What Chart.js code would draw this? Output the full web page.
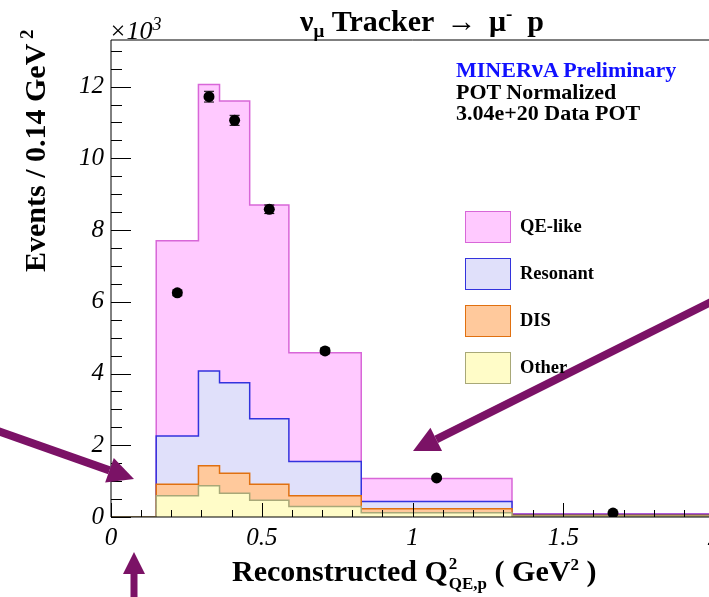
<!DOCTYPE html>
<html>
<head>
<meta charset="utf-8">
<script src="https://cdn.jsdelivr.net/npm/chart.js@4"></script>
<style>
  html, body { margin: 0; padding: 0; overflow: hidden; background: #fff; }
  #wrap { position: relative; width: 760px; height: 597px; }
  .txt { position: absolute; font-family: "Liberation Serif", "DejaVu Serif", serif; line-height: 1; white-space: nowrap; color: #000; }
  .b { font-weight: bold; }
  .box { position: absolute; width: 44px; height: 30px; border: 1px solid; }
</style>
</head>
<body>
<div id="wrap">
  <canvas id="chart" width="760" height="597"></canvas>
  <div class="txt" style="left:109px; top:15px; font-size:26px; font-style:italic;">&times;10<sup style="font-size:18px; vertical-align:9px;">3</sup></div>
  <div class="txt b" style="left:300px; top:4px; font-size:30px;">&nu;<sub style="font-size:19px; vertical-align:-6px;">&mu;</sub> Tracker <span style="display:inline-block; width:40px; text-align:center;">&rarr;</span> &mu;<sup style="font-size:19px; vertical-align:11px;">-</sup>&nbsp;&nbsp;p</div>
  <div class="txt b" style="left:456px; top:59px; font-size:22px; color:#1010ff;">MINER<span style="font-size:25px; line-height:0;">&nu;</span>A Preliminary</div>
  <div class="txt b" style="left:456px; top:81px; font-size:22px;">POT Normalized</div>
  <div class="txt b" style="left:456px; top:102px; font-size:22px;">3.04e+20 Data POT</div>
  <div id="legend"></div>
  <div class="txt b" style="left:17px; top:272px; font-size:30px; transform-origin:0 0; transform: rotate(-90deg);">Events / 0.14 GeV<sup style="font-size:19px; vertical-align:12px;"> 2</sup></div>
  <div class="txt b" style="left:232px; top:555px; font-size:30px;">Reconstructed Q<span style="display:inline-block; vertical-align:-8px; font-size:17px; line-height:1; margin-left:1px;"><span style="display:block; margin-bottom:3px;">2</span><span style="display:block;">QE,p</span></span> ( GeV<sup style="font-size:17px; vertical-align:11px;">2</sup> )</div>
</div>
<script>
// bin edges in GeV^2, event counts in units of 10^3
const binEdges = [0, 0.15, 0.29, 0.36, 0.46, 0.59, 0.83, 1.33, 2.0];
const qeLike   = [0, 5.44, 7.99, 7.86, 5.96, 3.03, 0.64, 0.02];
const resonant = [0, 1.35, 2.64, 2.52, 1.83, 0.96, 0.20, 0.02];
const dis      = [0, 0.32, 0.56, 0.56, 0.44, 0.30, 0.11, 0.02];
const other    = [0, 0.59, 0.87, 0.66, 0.47, 0.29, 0.12, 0.03];

// data points (bins 1..7)
const dataY   = [6.25, 11.72, 11.06, 8.58, 4.63, 1.09, 0.11];
const dataErr = [0.08, 0.15, 0.14, 0.12, 0.08, 0.04, 0.01];

const xTicks = [0, 0.5, 1, 1.5, 2];
const yTicks = [0, 2, 4, 6, 8, 10, 12];

const layers = [
    { label: "QE-like",   values: qeLike,   fill: "#ffc9ff", line: "#d867d8" },
    { label: "Resonant",  values: resonant, fill: "#e0e0fa", line: "#3333dd" },
    { label: "DIS",       values: dis,      fill: "#ffc99c", line: "#e07010" },
    { label: "Other",     values: other,    fill: "#fffcc8", line: "#a8a878" }
];

// cumulative stack, bottom layer first
function stackTops(upTo) {
    return binEdges.slice(0, -1).map((e, i) => {
        let s = 0;
        for (let k = layers.length - 1; k >= upTo; k--) s += layers[k].values[i];
        return s;
    });
}

function stepPoints(tops) {
    const pts = tops.map((v, i) => ({ x: binEdges[i], y: v }));
    pts.push({ x: binEdges[binEdges.length - 1], y: tops[tops.length - 1] });
    return pts;
}

const centers = binEdges.slice(1, -1).map((e, i) => (e + binEdges[i + 2]) / 2);
const dataPoints = dataY.map((v, i) => ({ x: centers[i], y: v }));

const datasets = [{
    type: "scatter",
    label: "Data",
    data: dataPoints,
    pointRadius: 5.5,
    pointBackgroundColor: "#000",
    pointBorderWidth: 0,
    showLine: false
}];
// Other first so it is drawn on top of the bigger stacks
for (let k = layers.length - 1; k >= 0; k--) {
    datasets.push({
        type: "line",
        label: layers[k].label,
        data: stepPoints(stackTops(k)),
        stepped: true,
        fill: "origin",
        backgroundColor: layers[k].fill,
        borderColor: layers[k].line,
        borderWidth: 1.5,
        pointRadius: 0
    });
}

// legend boxes
const legend = document.getElementById("legend");
layers.forEach((l, i) => {
    const top = 211 + i * 47;
    legend.innerHTML += `<div class="box" style="left:465px; top:${top}px; background:${l.fill}; border-color:${l.line};"></div>
        <div class="txt b" style="left:520px; top:${top + 6}px; font-size:18.5px;">${l.label}</div>`;
});

const framePlugin = {
    id: "frame",
    afterDatasetsDraw(chart) {
        const ctx = chart.ctx, a = chart.chartArea;
        const xs = chart.scales.x, ys = chart.scales.y;
        ctx.save();
        // error bars
        ctx.strokeStyle = "#000";
        ctx.lineWidth = 1;
        dataPoints.forEach((p, i) => {
            const px = xs.getPixelForValue(p.x);
            const y1 = ys.getPixelForValue(p.y + dataErr[i]);
            const y2 = ys.getPixelForValue(p.y - dataErr[i]);
            ctx.beginPath();
            ctx.moveTo(px, y1); ctx.lineTo(px, y2);
            ctx.moveTo(px - 5, y1); ctx.lineTo(px + 5, y1);
            ctx.moveTo(px - 5, y2); ctx.lineTo(px + 5, y2);
            ctx.stroke();
        });
        // frame
        ctx.beginPath();
        ctx.moveTo(a.left, a.bottom); ctx.lineTo(a.left, a.top); ctx.lineTo(a.right, a.top);
        ctx.moveTo(a.left, a.bottom); ctx.lineTo(a.right, a.bottom);
        ctx.stroke();
        // inward ticks
        ctx.beginPath();
        for (let v = 0; v <= 13.3; v += 0.5) {
            const py = Math.round(ys.getPixelForValue(v)) + 0.5;
            const len = Math.abs(v % 2) < 1e-6 ? 20 : 11;
            ctx.moveTo(a.left, py); ctx.lineTo(a.left + len, py);
        }
        for (let i = 0; i <= 20; i++) {
            const px = Math.round(xs.getPixelForValue(i / 10)) + 0.5;
            const len = i % 5 === 0 ? 14 : 7;
            ctx.moveTo(px, a.bottom); ctx.lineTo(px, a.bottom - len);
        }
        ctx.stroke();
        ctx.restore();
    },
    afterDraw(chart) {
        const ctx = chart.ctx;
        ctx.save();
        ctx.fillStyle = ctx.strokeStyle = "#7b1266";
        function arrow(x1, y1, x2, y2, w, hl, hw) {
            const ang = Math.atan2(y2 - y1, x2 - x1);
            const bx = x2 - hl * Math.cos(ang), by = y2 - hl * Math.sin(ang);
            ctx.lineWidth = w;
            ctx.beginPath(); ctx.moveTo(x1, y1); ctx.lineTo(bx, by); ctx.stroke();
            ctx.beginPath();
            ctx.moveTo(x2, y2);
            ctx.lineTo(bx + hw * Math.sin(ang), by - hw * Math.cos(ang));
            ctx.lineTo(bx - hw * Math.sin(ang), by + hw * Math.cos(ang));
            ctx.closePath(); ctx.fill();
        }
        arrow(-5, 430, 134, 479, 8, 26, 13);
        arrow(715, 300, 413, 451, 8, 26, 13);
        arrow(134, 600, 134, 552, 7, 22, 11);
        ctx.restore();
    }
};

new Chart(document.getElementById("chart"), {
    data: { datasets },
    options: {
        responsive: false,
        animation: false,
        devicePixelRatio: 1,
        layout: { padding: { top: 40, right: 46, left: 0, bottom: 0 } },
        plugins: { legend: { display: false }, tooltip: { enabled: false } },
        scales: {
            x: {
                type: "linear",
                min: 0, max: 2,
                afterFit: s => { s.height = 80; },
                afterBuildTicks: s => { s.ticks = xTicks.map(v => ({ value: v })); },
                grid: { display: false, drawTicks: false },
                border: { display: false },
                ticks: {
                    padding: 6,
                    color: "#000",
                    font: { family: "Liberation Serif", size: 25, style: "italic" },
                    callback: v => String(v)
                }
            },
            y: {
                min: 0, max: 13.3,
                afterFit: s => { s.width = 111; },
                afterBuildTicks: s => { s.ticks = yTicks.map(v => ({ value: v })); },
                grid: { display: false, drawTicks: false },
                border: { display: false },
                ticks: {
                    padding: 7,
                    color: "#000",
                    font: { family: "Liberation Serif", size: 25, style: "italic" },
                    callback: v => String(v)
                }
            }
        }
    },
    plugins: [framePlugin]
});
</script>
</body>
</html>
